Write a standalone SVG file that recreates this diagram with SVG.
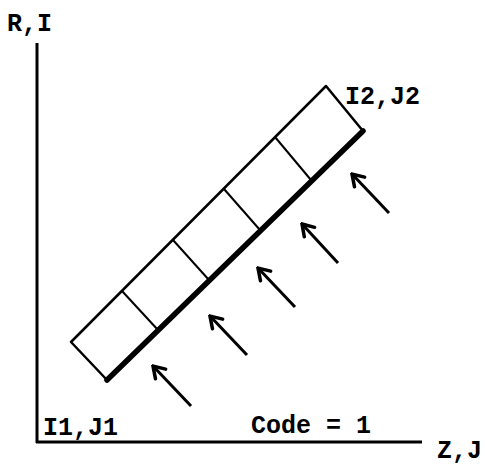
<svg xmlns="http://www.w3.org/2000/svg" width="485" height="466" viewBox="0 0 485 466">
<defs>
<style>
.lbl{font-family:"Liberation Mono","DejaVu Sans Mono",monospace;font-weight:bold;font-size:25px;fill:#000}
.ax{stroke:#000;stroke-width:3;fill:none}
.cell{stroke:#000;stroke-width:2.5;fill:none;stroke-linejoin:round}
.div{stroke:#000;stroke-width:2;fill:none}
.arr{stroke:#000;stroke-width:3;fill:none;marker-end:url(#ah)}
</style>
<marker id="ah" markerUnits="userSpaceOnUse" markerWidth="20" markerHeight="20" refX="18" refY="10" orient="auto" viewBox="0 0 20 20">
<path d="M7,3 L18,10 L7,17" fill="none" stroke="#000" stroke-width="3.5" stroke-linecap="round" stroke-linejoin="miter"/>
</marker>
</defs>
<g id="axes">
<line class="ax" x1="37" y1="43" x2="37" y2="443"/>
<line class="ax" x1="36" y1="442" x2="422" y2="442"/>
</g>
<g id="strip">
<polygon class="cell" points="71,342 107,380 363,131 326,86"/>
<line x1="107" y1="380" x2="363" y2="131" stroke="#000" stroke-width="5.5" stroke-linecap="round"/>
<line class="div" x1="122" y1="291" x2="158" y2="330"/>
<line class="div" x1="173" y1="240" x2="209" y2="280"/>
<line class="div" x1="224" y1="189" x2="260" y2="230"/>
<line class="div" x1="275" y1="137" x2="311" y2="180"/>
</g>
<g id="connectors">
<line class="arr" x1="191" y1="406" x2="153" y2="366"/>
<line class="arr" x1="247" y1="355" x2="210" y2="316"/>
<line class="arr" x1="295" y1="307" x2="258" y2="268"/>
<line class="arr" x1="338" y1="263" x2="302" y2="224"/>
<line class="arr" x1="389" y1="213" x2="352" y2="174"/>
</g>
<g id="labels">
<text class="lbl" x="7" y="31">R,I</text>
<text class="lbl" x="345" y="104">I2,J2</text>
<text class="lbl" x="43" y="435">I1,J1</text>
<text class="lbl" x="251" y="433">Code = 1</text>
<text class="lbl" x="437" y="458">Z,J</text>
</g>
</svg>
